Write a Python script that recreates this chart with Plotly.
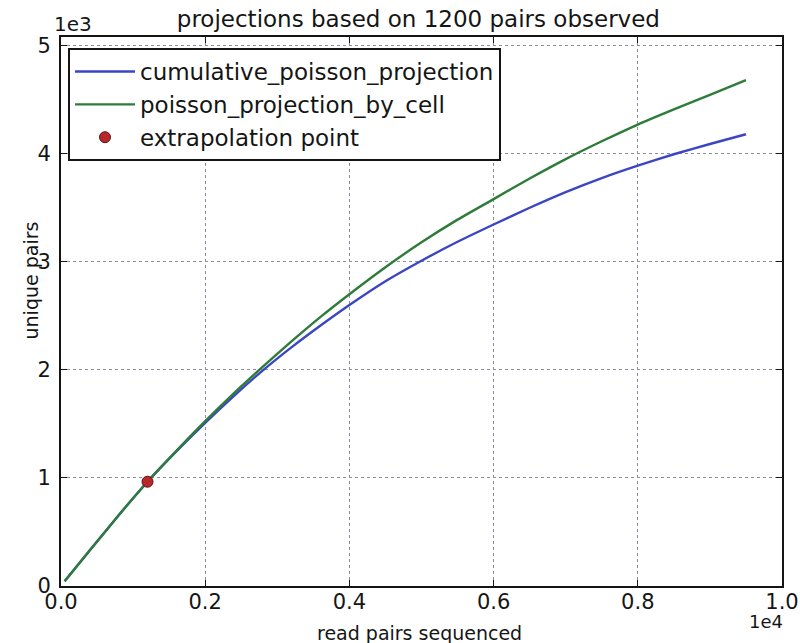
import plotly.graph_objects as go

# read pairs sequenced (x) and projected unique pairs (y)
reads = [50, 400, 800, 1200, 1600, 2000, 2400, 2800, 3200, 3600, 4000,
         4500, 5000, 5500, 6000, 6500, 7000, 7500, 8000, 8500, 9000, 9500]
cumulative_poisson = [45, 330, 655, 965, 1245, 1510, 1760, 1995, 2210, 2410, 2600,
                      2820, 3010, 3185, 3345, 3500, 3645, 3775, 3890, 3995, 4090, 4180]
poisson_by_cell = [45, 330, 655, 965, 1250, 1525, 1785, 2030, 2265, 2490, 2700,
                   2950, 3180, 3390, 3580, 3770, 3950, 4115, 4270, 4410, 4545, 4680]

extrap_x = [1200]
extrap_y = [965]

x_ticks = [0, 2000, 4000, 6000, 8000, 10000]
x_tick_labels = ["0.0", "0.2", "0.4", "0.6", "0.8", "1.0"]
y_ticks = [0, 1000, 2000, 3000, 4000, 5000]
y_tick_labels = ["0", "1", "2", "3", "4", "5"]

FONT = "DejaVu Sans"
INK = "#151515"

fig = go.Figure()
fig.add_trace(go.Scatter(
    x=reads, y=cumulative_poisson, mode="lines",
    name="cumulative_poisson_projection", legendgroup="a",
    line=dict(color="#3a46c4", width=2.4, shape="spline", smoothing=0.6)))
fig.add_trace(go.Scatter(
    x=reads, y=poisson_by_cell, mode="lines",
    name="poisson_projection_by_cell", legendgroup="b",
    line=dict(color="#2e7b3a", width=2.4, shape="spline", smoothing=0.6)))
fig.add_trace(go.Scatter(
    x=extrap_x, y=extrap_y, mode="markers",
    name="extrapolation point", legendgroup="c",
    marker=dict(color="#b8282a", size=11, line=dict(color="#5a1010", width=1))))

axis_common = dict(
    showline=True, linecolor=INK, linewidth=2, mirror="ticks",
    ticks="inside", ticklen=6, tickwidth=1, tickcolor=INK,
    showgrid=True, gridcolor="#8e8e9e", gridwidth=1, griddash="dot",
    zeroline=False, automargin=False,
    tickfont=dict(family=FONT, size=21, color=INK),
)

fig.update_xaxes(range=[0, 10000], tickvals=x_ticks, ticktext=x_tick_labels,
                 ticklabelstandoff=-4, **axis_common)
fig.update_yaxes(range=[0, 5080], tickvals=y_ticks, ticktext=y_tick_labels,
                 ticklabelstandoff=4, **axis_common)

fig.update_layout(
    width=800, height=643,
    margin=dict(l=61, r=18, t=37, b=57, autoexpand=False),
    paper_bgcolor="white", plot_bgcolor="white",
    font=dict(family=FONT, color=INK),
    title=dict(text="projections based on 1200 pairs observed",
               x=0.523, xanchor="center", y=0.97, yanchor="middle",
               font=dict(family=FONT, size=23, color=INK)),
    legend=dict(x=0.0097, y=0.98, xanchor="left", yanchor="top",
                bgcolor="white", bordercolor=INK, borderwidth=2,
                font=dict(family=FONT, size=23, color=INK),
                itemwidth=60, tracegroupgap=0),
    showlegend=True,
    annotations=[
        dict(text="1e3", x=0.0166, y=1.024, xref="paper", yref="paper",
             xanchor="center", yanchor="middle", showarrow=False,
             font=dict(family=FONT, size=20, color=INK)),
        dict(text="1e4", x=0.978, y=-0.064, xref="paper", yref="paper",
             xanchor="center", yanchor="middle", showarrow=False,
             font=dict(family=FONT, size=18, color=INK)),
        dict(text="read pairs sequenced", x=0.497, y=-0.0856, xref="paper", yref="paper",
             xanchor="center", yanchor="middle", showarrow=False,
             font=dict(family=FONT, size=19, color=INK)),
        dict(text="unique pairs", x=-0.042, y=0.556, xref="paper", yref="paper",
             xanchor="center", yanchor="middle", showarrow=False, textangle=-90,
             font=dict(family=FONT, size=19, color=INK)),
    ],
)

fig.write_html("out.html")
